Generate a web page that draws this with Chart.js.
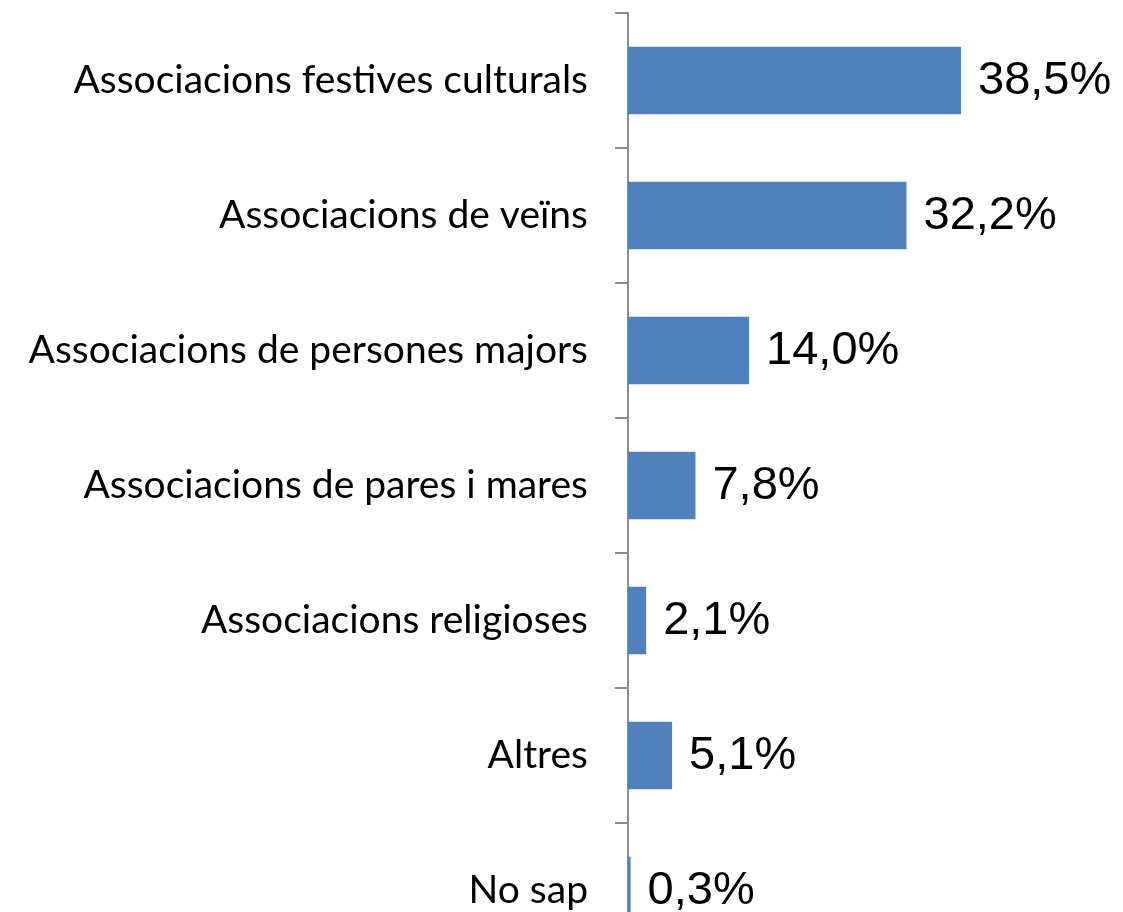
<!DOCTYPE html>
<html lang="ca">
  <head>
    <meta charset="UTF-8" />
    <title>Associacions</title>
    <script src="https://cdn.jsdelivr.net/npm/chart.js"></script>
    <style>
      body {
        margin: 0;
        padding: 0;
        background: #ffffff;
        overflow: hidden;
      }
      .wrap {
        width: 1123px;
        height: 958px;
      }
    </style>
  </head>
  <body>
    <div class="wrap"><canvas id="chart"></canvas></div>
    <script>
      const categories = [
        "Associacions festives culturals",
        "Associacions de veïns",
        "Associacions de persones majors",
        "Associacions de pares i mares",
        "Associacions religioses",
        "Altres",
        "No sap",
      ];
      const values = [38.5, 32.2, 14.0, 7.8, 2.1, 5.1, 0.3];

      // draws "38,5%" style labels to the right of each bar
      const valueLabels = {
        id: "valueLabels",
        afterDatasetsDraw(chart) {
          const ctx = chart.ctx;
          const meta = chart.getDatasetMeta(0);
          ctx.save();
          ctx.font = "47px 'Liberation Sans', Arial, sans-serif";
          ctx.fillStyle = "#000000";
          ctx.textAlign = "left";
          ctx.textBaseline = "middle";
          meta.data.forEach((bar, i) => {
            const txt = values[i].toFixed(1).replace(".", ",") + "%";
            ctx.fillText(txt, bar.x + 17, bar.y + 1);
          });
          ctx.restore();
        },
      };

      new Chart(document.getElementById("chart"), {
        type: "bar",
        data: {
          labels: categories,
          datasets: [
            {
              data: values,
              backgroundColor: "#4F81BD",
              borderWidth: 0,
              categoryPercentage: 0.5,
              barPercentage: 1,
            },
          ],
        },
        options: {
          indexAxis: "y",
          responsive: true,
          maintainAspectRatio: false,
          animation: false,
          layout: { padding: { top: 13, bottom: 0, left: 0, right: 2 } },
          plugins: {
            legend: { display: false },
            tooltip: { enabled: false },
          },
          scales: {
            x: {
              display: false,
              min: 0,
              max: 57,
            },
            y: {
              afterFit(scale) {
                scale.width = 628;
                scale.paddingTop = 0;
                scale.paddingBottom = 0;
              },
              border: { display: true, color: "#8c8c8c", width: 2 },
              grid: {
                offset: true,
                drawOnChartArea: false,
                drawTicks: true,
                tickLength: 13,
                color: "#8c8c8c",
                lineWidth: 2,
              },
              ticks: {
                color: "#000000",
                padding: 27,
                font: { family: "Lato", size: 39 },
              },
            },
          },
        },
        plugins: [valueLabels],
      });
    </script>
  </body>
</html>
